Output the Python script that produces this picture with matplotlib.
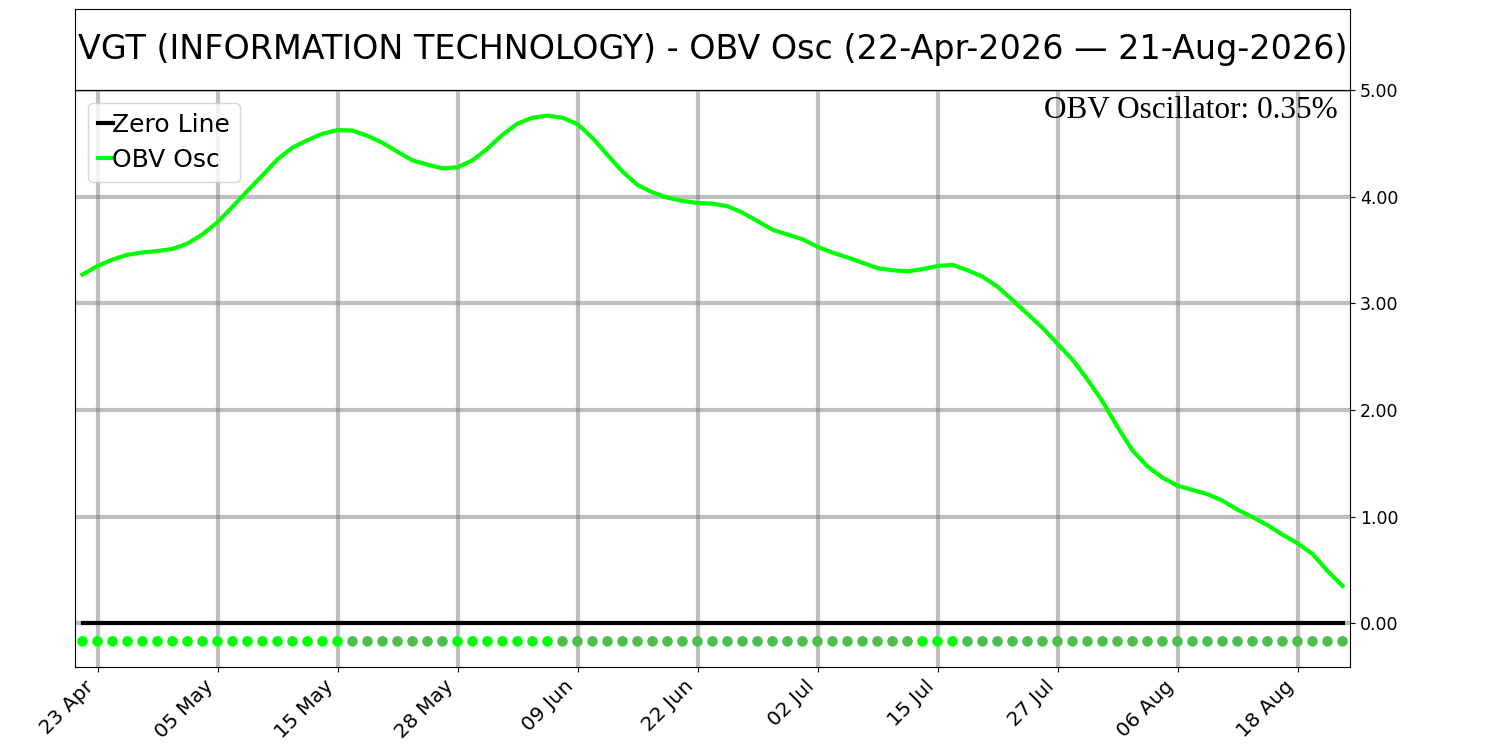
import matplotlib
matplotlib.use("Agg")
import matplotlib.pyplot as plt
import numpy as np

title = "VGT (INFORMATION TECHNOLOGY) - OBV Osc (22-Apr-2026 \u2014 21-Aug-2026)"

obv_osc = [3.27, 3.35, 3.41, 3.455, 3.477, 3.49, 3.51, 3.56, 3.646, 3.76,
           3.905, 4.055, 4.20, 4.35, 4.46, 4.53, 4.59, 4.625, 4.62, 4.57,
           4.505, 4.42, 4.34, 4.30, 4.265, 4.275, 4.34, 4.45, 4.58, 4.685,
           4.74, 4.76, 4.74, 4.68, 4.55, 4.39, 4.235, 4.11, 4.04, 3.99,
           3.96, 3.94, 3.935, 3.91, 3.85, 3.77, 3.69, 3.645, 3.60, 3.53,
           3.475, 3.43, 3.38, 3.33, 3.31, 3.30, 3.32, 3.35, 3.36, 3.31,
           3.25, 3.155, 3.03, 2.90, 2.77, 2.62, 2.47, 2.285, 2.08, 1.84,
           1.62, 1.47, 1.365, 1.29, 1.25, 1.21, 1.15, 1.065, 0.995, 0.92,
           0.83, 0.75, 0.65, 0.49, 0.35]

tick_idx = [1, 9, 17, 25, 33, 41, 49, 57, 65, 73, 81]
tick_labels = ["23 Apr", "05 May", "15 May", "28 May", "09 Jun", "22 Jun",
               "02 Jul", "15 Jul", "27 Jul", "06 Aug", "18 Aug"]
y_ticks = [0, 1, 2, 3, 4, 5]
dot_level = -0.17
last_value = 0.35

x = np.arange(len(obv_osc))
vals = np.array(obv_osc)
rising = np.concatenate([[True], np.diff(vals) > 0])
dot_colors = np.where(rising, "#00ff00", "#4bbf4b")

fig = plt.figure(figsize=(15, 7.5), dpi=100)
ax_t = fig.add_axes([0.05, 0.88, 0.85, 0.108])
ax_t.set_xticks([])
ax_t.set_yticks([])
ax_t.text(0.5, 0.5, title, ha="center", va="center", fontsize=24,
          transform=ax_t.transAxes)

ax = fig.add_axes([0.05, 0.1107, 0.85, 0.7693])
ax.grid(True, color="gray", alpha=0.5, linewidth=3)
ax.set_axisbelow(True)
ax.plot(x, np.zeros_like(vals), color="black", linewidth=3, label="Zero Line", zorder=3)
ax.plot(x, vals, color="#00ff00", linewidth=3, label="OBV Osc", zorder=4)
ax.scatter(x, np.full_like(vals, dot_level), c=dot_colors, s=58, zorder=5,
           linewidths=0)
ax.set_xlim(-0.5, len(obv_osc) - 0.5)
ax.set_ylim(-0.41, 5.0)
ax.set_xticks(tick_idx)
ax.set_xticklabels(tick_labels, rotation=45, ha="right", fontsize=14.5)
ax.set_yticks(y_ticks)
ax.set_yticklabels([f"{v:.2f}" for v in y_ticks], fontsize=12.5)
ax.yaxis.tick_right()
ax.legend(loc="upper left", fontsize=18, handlelength=0.6, handletextpad=0.0,
          borderpad=0.4, labelspacing=0.45, borderaxespad=0.5)
ax.text(0.99, 0.99, f"OBV Oscillator: {last_value:.2f}%", ha="right", va="top",
        fontsize=22.5, family="Liberation Serif", transform=ax.transAxes)

fig.savefig("out.png", dpi=100)
